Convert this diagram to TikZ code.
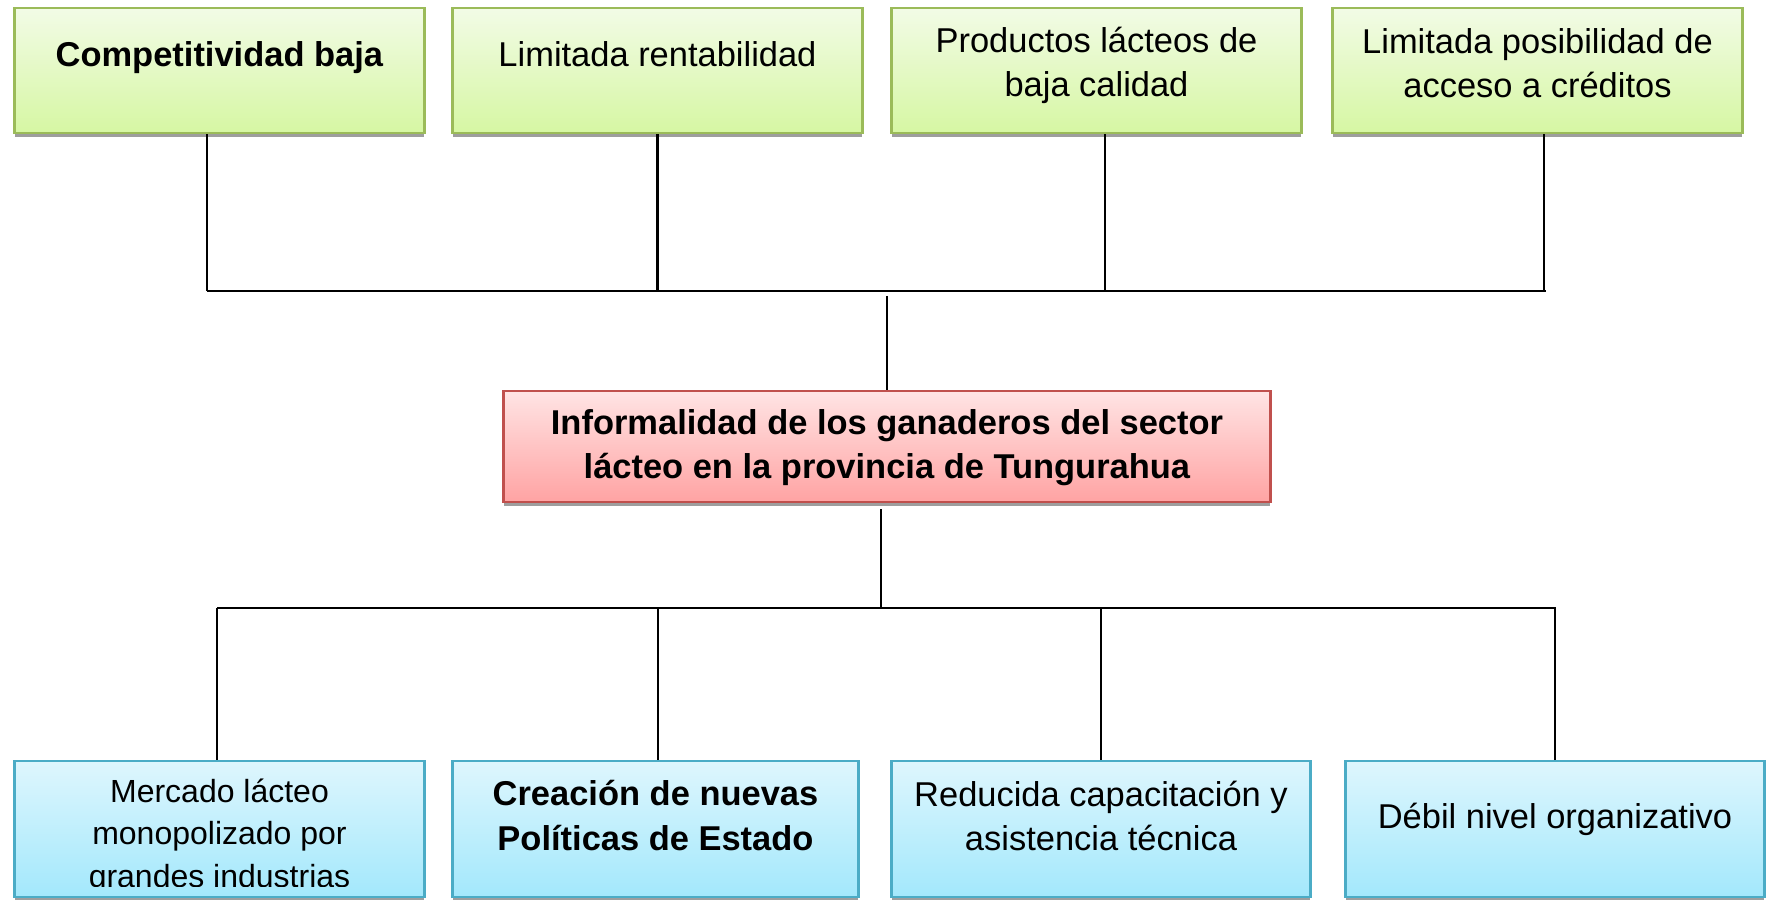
\documentclass[tikz,border=0pt]{standalone}
\usepackage{fontspec}
\setmainfont{Liberation Sans}
\definecolor{verdeborde}{RGB}{155,187,89}
\definecolor{verdearriba}{RGB}{242,251,230}
\definecolor{verdeabajo}{RGB}{214,247,163}
\definecolor{rojoborde}{RGB}{192,80,77}
\definecolor{rojoarriba}{RGB}{255,228,228}
\definecolor{rojoabajo}{RGB}{255,163,163}
\definecolor{azulborde}{RGB}{75,172,198}
\definecolor{azularriba}{RGB}{222,246,253}
\definecolor{azulabajo}{RGB}{163,232,252}

\begin{document}
\begin{tikzpicture}[x=0.01cm,y=0.01cm,line width=0.6pt]
		\tikzstyle{caja}=[rectangle,inner sep=0pt,line width=0.8pt,preaction={fill=black!38,transform canvas={yshift=-0.035cm}}]
		\tikzstyle{efecto}=[caja,draw=verdeborde,top color=verdearriba,bottom color=verdeabajo,minimum width=4.09cm,minimum height=1.25cm]
		\tikzstyle{problema}=[caja,draw=rojoborde,top color=rojoarriba,bottom color=rojoabajo,minimum width=7.66cm,minimum height=1.11cm]
		\tikzstyle{causa}=[caja,draw=azulborde,top color=azularriba,bottom color=azulabajo,minimum height=1.36cm]
		\tikzstyle{texto}=[align=center,inner sep=0pt,font=\fontsize{9.8}{12.6}\selectfont]

		\useasboundingbox (0,0) rectangle (1771,900);
		\clip (0,0) rectangle (1771,900);

		% efectos
		\node[efecto] (e1) at (219.5,829.5) {};
		\node[efecto] (e2) at (657.5,829.5) {};
		\node[efecto] (e3) at (1096.5,829.5) {};
		\node[efecto] (e4) at (1537.5,829.5) {};
		\node[texto] (te1) at (219.5,842.5) {\textbf{Competitividad baja}};
		\node[texto] (te2) at (657.5,846) {Limitada rentabilidad};
		\node[texto] (te3) at (1096.5,834.5) {Productos lácteos de\\baja calidad};
		\node[texto] (te4) at (1537.5,837) {Limitada posibilidad de\\acceso a créditos};

		% problema central
		\node[problema] (p) at (887,453.5) {};
		\node[texto] (tp) at (887,452) {\textbf{Informalidad de los ganaderos del sector}\\\textbf{lácteo en la provincia de Tungurahua}};

		% causas
		\node[causa,minimum width=4.09cm] (c1) at (219.5,71) {};
		\node[causa,minimum width=4.05cm] (c2) at (655.5,71) {};
		\node[causa,minimum width=4.18cm] (c3) at (1101,71) {};
		\node[causa,minimum width=4.18cm] (c4) at (1555,71) {};
		\begin{scope}
		\clip (15,13) rectangle (424,139);
		\node[texto,font=\fontsize{9.1}{12}\selectfont] (tc1) at (219.5,63.5) {Mercado lácteo\\monopolizado por\\grandes industrias};
		\end{scope}
		\node[texto] (tc2) at (655.5,84.5) {\textbf{Creación de nuevas}\\\textbf{Políticas de Estado}};
		\node[texto] (tc3) at (1101,84) {Reducida capacitación y\\asistencia técnica};
		\node[texto] (tc4) at (1555,81) {Débil nivel organizativo};

		% lineas de arriba
		\coordinate (ba) at (0,609);
		\coordinate (bi) at (207,609);
		\coordinate (bd) at (1546,609);
		\draw (bi) -- (bd);
		\draw ([xshift=-0.125cm]e1.south) -- ([xshift=-0.125cm]e1.south |- ba);
		\draw (e2.south) -- (e2.south |- ba);
		\draw ([xshift=0.085cm]e3.south) -- ([xshift=0.085cm]e3.south |- ba);
		\draw ([xshift=0.065cm]e4.south) -- ([xshift=0.065cm]e4.south |- ba);
		\draw ([yshift=-0.05cm]ba -| p.north) -- (p.north);

		% lineas de abajo
		\coordinate (bb) at (0,292);
		\coordinate (ci) at (217,292);
		\coordinate (cd) at (1556,292);
		\draw (ci) -- (cd);
		\draw ([xshift=-0.06cm,yshift=-0.06cm]p.south) -- ([xshift=-0.06cm]p.south |- bb);
		\draw ([xshift=-0.025cm]c1.north) -- ([xshift=-0.025cm]c1.north |- bb);
		\draw ([xshift=0.025cm]c2.north) -- ([xshift=0.025cm]c2.north |- bb);
		\draw (c3.north) -- (c3.north |- bb);
		\draw (c4.north) -- (c4.north |- bb);
\end{tikzpicture}
\end{document}
